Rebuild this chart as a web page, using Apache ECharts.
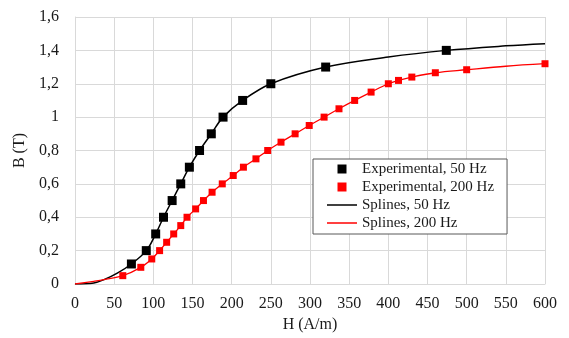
<!DOCTYPE html>
<html>
<head>
<meta charset="utf-8">
<script src="https://cdn.jsdelivr.net/npm/echarts@6/dist/echarts.min.js"></script>
<style>
  html, body { margin: 0; padding: 0; background: #fff; }
  #chart { width: 569px; height: 338px; }
</style>
</head>
<body>
<div id="chart"></div>
<script>
// measured points, 50 Hz  [H (A/m), B (T)]
const exp50 = [
  [72, 0.12], [91, 0.2], [103, 0.3], [113, 0.4], [124, 0.5], [135, 0.6],
  [146, 0.7], [159, 0.8], [174, 0.9], [189, 1.0], [214, 1.1], [250, 1.2],
  [320, 1.3], [474, 1.4]
];
// measured points, 200 Hz
const exp200 = [
  [61, 0.05], [84, 0.1], [98, 0.15], [108, 0.2], [117, 0.25], [126, 0.3],
  [135, 0.35], [143, 0.4], [154, 0.45], [164, 0.5], [175, 0.55], [188, 0.6],
  [202, 0.65], [215, 0.7], [231, 0.75], [246, 0.8], [263, 0.85], [281, 0.9],
  [299, 0.95], [318, 1.0], [337, 1.05], [357, 1.1], [378, 1.15], [400, 1.2],
  [413, 1.22], [430, 1.24], [460, 1.266], [500, 1.284], [600, 1.32]
];
// spline curves
const spline50 = [
  [0, 0], [24, 0.006], [37, 0.026], [54, 0.065], [72, 0.12], [91, 0.2],
  [103, 0.3], [113, 0.4], [124, 0.5], [135, 0.6], [146, 0.7], [159, 0.8],
  [174, 0.9], [189, 1.0], [214, 1.1], [250, 1.2], [320, 1.3],
  [400, 1.36], [474, 1.4], [550, 1.427], [600, 1.44]
];
const spline200 = [
  [0, 0], [24, 0.016], [37, 0.026], [61, 0.05], [84, 0.1], [98, 0.15],
  [108, 0.2], [117, 0.25], [126, 0.3], [135, 0.35], [143, 0.4], [154, 0.45],
  [164, 0.5], [175, 0.55], [188, 0.6], [202, 0.65], [215, 0.7], [231, 0.75],
  [246, 0.8], [263, 0.85], [281, 0.9], [299, 0.95], [318, 1.0], [337, 1.05],
  [357, 1.1], [378, 1.15], [400, 1.2], [413, 1.22], [430, 1.24], [460, 1.266],
  [500, 1.284], [550, 1.305], [600, 1.32]
];

const fontFamily = '"Liberation Serif", "Times New Roman", serif';
const textColor = '#1a1a1a';
const gridColor = '#d9d9d9';
const squareIcon = 'path://M0,0h10v10h-10z';
const lineIcon = 'path://M0,0h30v1.5h-30z';

const chart = echarts.init(document.getElementById('chart'));
chart.setOption({
  animation: false,
  grid: { left: 75, right: 24, top: 17, bottom: 52 },
  xAxis: {
    type: 'value', min: 0, max: 600, interval: 50,
    name: 'H (A/m)', nameLocation: 'middle', nameGap: 33,
    nameTextStyle: { fontFamily, fontSize: 16, color: textColor },
    axisLine: { show: true, lineStyle: { color: gridColor, width: 1 } },
    axisTick: { show: false },
    axisLabel: { fontFamily, fontSize: 16, color: textColor, margin: 12 },
    splitLine: { show: true, lineStyle: { color: gridColor, width: 1 } }
  },
  yAxis: {
    type: 'value', min: 0, max: 1.6, interval: 0.2,
    name: 'B (T)', nameLocation: 'middle', nameGap: 44,
    nameTextStyle: { fontFamily, fontSize: 16, color: textColor },
    axisLine: { show: true, lineStyle: { color: gridColor, width: 1 } },
    axisTick: { show: false },
    axisLabel: {
      fontFamily, fontSize: 16, color: textColor, margin: 16,
      formatter: v => String(Math.round(v * 10) / 10).replace('.', ',')
    },
    splitLine: { show: true, lineStyle: { color: gridColor, width: 1 } }
  },
  legend: {
    orient: 'vertical', left: 313, top: 159,
    backgroundColor: '#fff', borderColor: '#595959', borderWidth: 1,
    padding: [1, 13, 2, 14],
    itemWidth: 30, itemHeight: 9, itemGap: 0,
    textStyle: { fontFamily, fontSize: 15, color: textColor, lineHeight: 18 },
    data: [
      { name: 'Experimental, 50 Hz', icon: squareIcon },
      { name: 'Experimental, 200 Hz', icon: squareIcon },
      { name: 'Splines, 50 Hz', icon: lineIcon },
      { name: 'Splines, 200 Hz', icon: lineIcon }
    ]
  },
  series: [
    {
      name: 'Splines, 50 Hz', type: 'line', data: spline50, smooth: 0.35,
      symbol: 'none', z: 2,
      lineStyle: { color: '#000', width: 1.5 }, itemStyle: { color: '#000' }
    },
    {
      name: 'Splines, 200 Hz', type: 'line', data: spline200, smooth: 0.35,
      symbol: 'none', z: 2,
      lineStyle: { color: '#ff0000', width: 1.3 }, itemStyle: { color: '#ff0000' }
    },
    {
      name: 'Experimental, 50 Hz', type: 'scatter', data: exp50,
      symbol: 'rect', symbolSize: 9, z: 3,
      itemStyle: { color: '#000', opacity: 1 }
    },
    {
      name: 'Experimental, 200 Hz', type: 'scatter', data: exp200,
      symbol: 'rect', symbolSize: 7, z: 3,
      itemStyle: { color: '#ff0000', opacity: 1 }
    }
  ]
});
</script>
</body>
</html>
